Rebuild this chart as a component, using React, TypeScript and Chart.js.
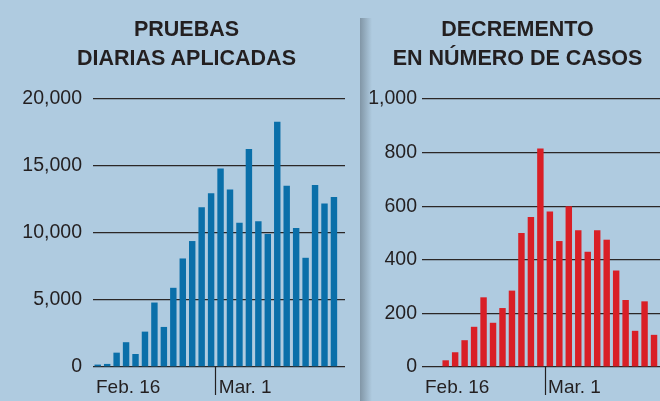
import React, { useEffect, useRef } from 'react';
import { Chart, registerables } from 'chart.js';

Chart.register(...registerables);

// ---------- data ----------
const leftDates = [
  'Feb 16', 'Feb 17', 'Feb 18', 'Feb 19', 'Feb 20', 'Feb 21', 'Feb 22', 'Feb 23', 'Feb 24',
  'Feb 25', 'Feb 26', 'Feb 27', 'Feb 28', 'Mar 1', 'Mar 2', 'Mar 3', 'Mar 4', 'Mar 5',
  'Mar 6', 'Mar 7', 'Mar 8', 'Mar 9', 'Mar 10', 'Mar 11', 'Mar 12', 'Mar 13',
];
const pruebasDiarias = [
  180, 230, 1070, 1850, 970, 2640, 4810, 2990, 5910, 8100, 9400, 11920, 12970,
  14810, 13240, 10770, 16260, 10870, 9930, 18300, 13520, 10370, 8150, 13590, 12200, 12690,
];

const rightDates = [
  'Feb 16', 'Feb 17', 'Feb 18', 'Feb 19', 'Feb 20', 'Feb 21', 'Feb 22', 'Feb 23', 'Feb 24',
  'Feb 25', 'Feb 26', 'Feb 27', 'Feb 28', 'Mar 1', 'Mar 2', 'Mar 3', 'Mar 4', 'Mar 5',
  'Mar 6', 'Mar 7', 'Mar 8', 'Mar 9', 'Mar 10', 'Mar 11', 'Mar 12',
];
const decrementoCasos: (number | null)[] = [
  null, null, 25, 55, 100, 150, 260, 165, 220, 285, 500, 560, 815,
  580, 470, 600, 510, 430, 510, 475, 360, 250, 135, 245, 120,
];

const tickDates = ['Feb 16', 'Mar 1'];
const tickLabels = ['Feb. 16', 'Mar. 1'];

const leftTitle = ['PRUEBAS', 'DIARIAS APLICADAS'];
const rightTitle = ['DECREMENTO', 'EN NÚMERO DE CASOS'];

const leftYMax = 20000;
const leftYStep = 5000;
const rightYMax = 1000;
const rightYStep = 200;

// ---------- styles ----------
const BG = '#afcbe0';
const TEXT = '#231f20';
const GRID = '#2b2726';
const BLUE = '#0a6fa9';
const RED = '#d91f26';
const FONT = "'Liberation Sans', Arial, sans-serif";

type PanelOpts = {
  dates: string[];
  values: (number | null)[];
  color: string;
  yMax: number;
  yStep: number;
  xMax: number;
  padRight: number;
  yAxisWidth: number;
  yPad: number;
};

function makeConfig(p: PanelOpts): any {
  return {
    type: 'bar',
    data: {
      datasets: [
        {
          data: p.values.map((v, i) => ({ x: i, y: v })),
          backgroundColor: p.color,
          borderWidth: 0,
          barPercentage: 0.68,
          categoryPercentage: 1,
        },
      ],
    },
    options: {
      responsive: false,
      animation: false,
      devicePixelRatio: 1,
      layout: { padding: { top: 99, left: 0, right: p.padRight, bottom: 0 } },
      plugins: {
        legend: { display: false },
        tooltip: { enabled: false },
        title: { display: false },
      },
      scales: {
        x: {
          type: 'linear',
          offset: false,
          min: -0.5,
          max: p.xMax,
          afterBuildTicks: (axis: any) => {
            axis.ticks = tickDates.map((d) => ({ value: p.dates.indexOf(d) - 0.5 }));
          },
          afterFit: (axis: any) => {
            axis.height = 34;
          },
          grid: {
            offset: false,
            drawOnChartArea: false,
            drawTicks: true,
            tickLength: 28,
            tickWidth: 1.2,
            tickColor: (c: any) => (c.index === 0 ? 'rgba(0,0,0,0)' : TEXT),
          },
          border: { display: false },
          ticks: {
            autoSkip: false,
            maxRotation: 0,
            align: 'start',
            labelOffset: 3,
            padding: -19,
            color: TEXT,
            font: { family: FONT, size: 19 },
            callback: (_v: any, i: number) => tickLabels[i],
          },
        },
        y: {
          min: 0,
          max: p.yMax,
          afterFit: (axis: any) => {
            axis.width = p.yAxisWidth;
          },
          grid: { color: GRID, lineWidth: 1.3, drawTicks: false },
          border: { display: false },
          ticks: {
            stepSize: p.yStep,
            padding: p.yPad,
            color: TEXT,
            font: { family: FONT, size: 19.5 },
          },
        },
      },
    },
  };
}

const titleStyle: React.CSSProperties = {
  position: 'absolute',
  top: 15,
  margin: 0,
  fontFamily: FONT,
  fontWeight: 'bold',
  fontSize: 21.5,
  lineHeight: '29px',
  color: TEXT,
  textAlign: 'center',
  whiteSpace: 'nowrap',
};

export default function App() {
  const leftRef = useRef<HTMLCanvasElement | null>(null);
  const rightRef = useRef<HTMLCanvasElement | null>(null);

  useEffect(() => {
    document.body.style.margin = '0';
    const left = new Chart(
      leftRef.current as HTMLCanvasElement,
      makeConfig({
        dates: leftDates,
        values: pruebasDiarias,
        color: BLUE,
        yMax: leftYMax,
        yStep: leftYStep,
        xMax: 26.17,
        padRight: 15,
        yAxisWidth: 93,
        yPad: 11,
      })
    );
    const right = new Chart(
      rightRef.current as HTMLCanvasElement,
      makeConfig({
        dates: rightDates,
        values: decrementoCasos,
        color: RED,
        yMax: rightYMax,
        yStep: rightYStep,
        xMax: 24.63,
        padRight: 0,
        yAxisWidth: 62,
        yPad: 5,
      })
    );
    return () => {
      left.destroy();
      right.destroy();
    };
  }, []);

  return (
    <div
      style={{
        position: 'fixed',
        left: 0,
        top: 0,
        width: 660,
        height: 401,
        background: BG,
        overflow: 'hidden',
      }}
    >
      <div
        style={{
          position: 'absolute',
          left: 360,
          top: 18,
          width: 12,
          bottom: 0,
          background: 'linear-gradient(to right, #8196a6, #afcbe0)',
        }}
      />
      <canvas
        ref={leftRef}
        width={360}
        height={401}
        style={{ position: 'absolute', left: 0, top: 0 }}
      />
      <canvas
        ref={rightRef}
        width={300}
        height={401}
        style={{ position: 'absolute', left: 360, top: 0 }}
      />
      <div style={{ ...titleStyle, left: 0, width: 373 }}>
        {leftTitle.map((t) => (
          <div key={t}>{t}</div>
        ))}
      </div>
      <div style={{ ...titleStyle, left: 375, width: 285 }}>
        {rightTitle.map((t) => (
          <div key={t}>{t}</div>
        ))}
      </div>
    </div>
  );
}
